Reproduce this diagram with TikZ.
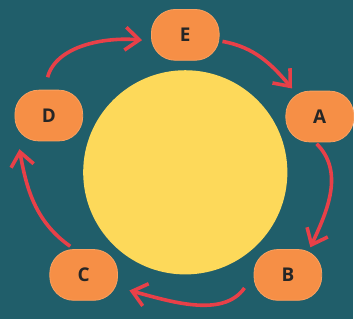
\documentclass[tikz,border=0pt]{standalone}
\usepackage{fontspec}
\setsansfont{Open Sans}
\usepackage{tikz}
\usetikzlibrary{arrows.meta}
\definecolor{bgteal}{RGB}{32,94,106}
\definecolor{sunyellow}{RGB}{253,217,90}
\definecolor{stageorange}{RGB}{246,143,70}
\definecolor{stageedge}{RGB}{250,160,95}
\definecolor{arrowred}{RGB}{232,64,72}

\begin{document}
\begin{tikzpicture}[x=1pt,y=1pt,
  stage/.style={fill=stageorange, draw=stageedge, line width=0.8pt, rounded corners=24pt,
    minimum width=68pt, minimum height=51pt, inner sep=0pt,
    font=\sffamily\bfseries\fontsize{19}{19}\selectfont, text=black!85},
  cyc/.style={draw=arrowred, line width=3.6pt, -{Straight Barb[length=14pt,width=23pt]}}]
\fill[bgteal] (0,0) rectangle (354,-320);
\fill[sunyellow] (186,-173) circle (102.5);
\node[stage] (e) at (186,-35) {E};
\node[stage] (a) at (321,-117) {A};
\node[stage] (b) at (289,-276) {B};
\node[stage] (c) at (84,-276) {C};
\node[stage] (d) at (49,-116) {D};
\draw[cyc, shorten <=13pt, shorten >=9pt] (d.100) to[out=75,in=175] (e.190);
\draw[cyc, shorten <=3pt, shorten >=3pt] (e.-10) to[out=-10,in=130] (a.135);
\draw[cyc, shorten <=2pt, shorten >=2pt] (a.-100) to[out=-45,in=65] (b.50);
\draw[cyc, shorten <=16pt, shorten >=12pt] (b.west) to[out=235,in=-15] (c.-20);
\draw[cyc, shorten <=5pt, shorten >=8pt] (c.110) to[out=145,in=-80] (d.-140);
\end{tikzpicture}
\end{document}
